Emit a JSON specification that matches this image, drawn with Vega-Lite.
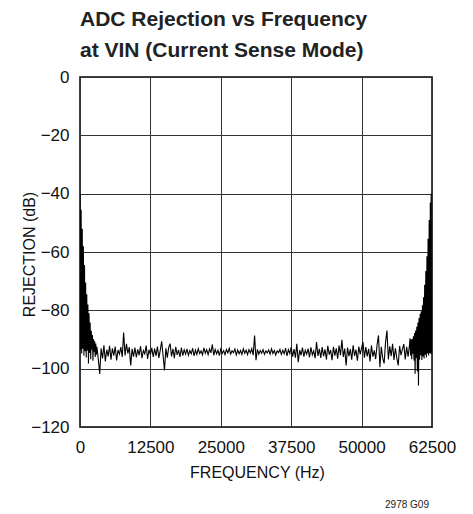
{
  "$schema": "https://vega.github.io/schema/vega-lite/v6.json",
  "width": 352,
  "height": 350,
  "autosize": {"type": "none"},
  "padding": {"left": 80, "top": 77, "right": 41, "bottom": 87},
  "background": "white",
  "config": {
    "font": "Liberation Sans",
    "view": {"stroke": "#000", "strokeWidth": 1.5}
  },
  "title": {
    "text": ["ADC Rejection vs Frequency", "at VIN (Current Sense Mode)"],
    "anchor": "start",
    "frame": "group",
    "font": "Liberation Sans",
    "fontSize": 21,
    "fontWeight": "bold",
    "color": "#222",
    "lineHeight": 31,
    "offset": 20,
    "dy": 30,
    "baseline": "alphabetic"
  },
  "layer": [
    {
      "data": {"values": [
        {"f":0,"r":-40.0},{"f":100,"r":-93.5},{"f":200,"r":-45.5},{"f":300,"r":-94.8},{"f":400,"r":-52.0},{"f":500,"r":-93.2},{"f":600,"r":-58.0},{"f":700,"r":-95.6},{"f":800,"r":-64.5},{"f":900,"r":-94.0},
        {"f":1000,"r":-70.5},{"f":1100,"r":-96.2},{"f":1200,"r":-74.5},{"f":1300,"r":-93.8},{"f":1400,"r":-78.0},{"f":1500,"r":-98.2},{"f":1600,"r":-81.0},{"f":1700,"r":-94.6},{"f":1800,"r":-84.2},{"f":1900,"r":-96.8},
        {"f":2000,"r":-87.0},{"f":2100,"r":-93.5},{"f":2200,"r":-88.5},{"f":2300,"r":-97.3},{"f":2400,"r":-89.8},{"f":2500,"r":-94.2},{"f":2600,"r":-90.6},{"f":2700,"r":-96.0},{"f":2800,"r":-91.4},{"f":2900,"r":-95.2},
        {"f":3000,"r":-92.5},{"f":3250,"r":-96.8},{"f":3500,"r":-101.8},{"f":3750,"r":-93.0},{"f":4000,"r":-96.5},{"f":4250,"r":-92.0},{"f":4500,"r":-97.5},{"f":4750,"r":-93.5},{"f":5000,"r":-95.8},{"f":5250,"r":-92.2},
        {"f":5500,"r":-96.9},{"f":5750,"r":-93.0},{"f":6000,"r":-95.5},{"f":6250,"r":-92.4},{"f":6500,"r":-97.2},{"f":6750,"r":-93.6},{"f":7000,"r":-95.0},{"f":7250,"r":-92.6},{"f":7500,"r":-96.0},{"f":7750,"r":-87.6},
        {"f":8000,"r":-95.5},{"f":8250,"r":-91.5},{"f":8500,"r":-94.8},{"f":8750,"r":-92.6},{"f":9000,"r":-98.9},{"f":9250,"r":-93.2},{"f":9500,"r":-95.9},{"f":9750,"r":-92.8},{"f":10000,"r":-96.1},{"f":10250,"r":-93.4},
        {"f":10500,"r":-95.4},{"f":10750,"r":-92.3},{"f":11000,"r":-96.4},{"f":11250,"r":-93.8},{"f":11500,"r":-94.9},{"f":11750,"r":-92.1},{"f":12000,"r":-96.7},{"f":12250,"r":-93.5},{"f":12500,"r":-95.2},{"f":12750,"r":-92.9},
        {"f":13000,"r":-96.0},{"f":13250,"r":-93.1},{"f":13500,"r":-95.6},{"f":13750,"r":-92.4},{"f":14000,"r":-96.3},{"f":14250,"r":-93.7},{"f":14500,"r":-90.6},{"f":14750,"r":-95.4},{"f":15000,"r":-100.6},{"f":15250,"r":-93.0},
        {"f":15500,"r":-96.2},{"f":15750,"r":-92.7},{"f":16000,"r":-91.4},{"f":16250,"r":-95.8},{"f":16500,"r":-93.2},{"f":16750,"r":-96.4},{"f":17000,"r":-92.5},{"f":17250,"r":-95.3},{"f":17500,"r":-93.6},{"f":17750,"r":-96.0},
        {"f":18000,"r":-92.8},{"f":18250,"r":-95.5},{"f":18500,"r":-93.5},{"f":18750,"r":-95.0},{"f":19000,"r":-93.2},{"f":19250,"r":-95.4},{"f":19500,"r":-93.8},{"f":19750,"r":-94.9},{"f":20000,"r":-93.0},{"f":20250,"r":-95.6},
        {"f":20500,"r":-93.6},{"f":20750,"r":-95.1},{"f":21000,"r":-93.1},{"f":21250,"r":-94.8},{"f":21500,"r":-93.9},{"f":21750,"r":-95.3},{"f":22000,"r":-92.9},{"f":22250,"r":-94.7},{"f":22500,"r":-93.5},{"f":22750,"r":-95.2},
        {"f":23000,"r":-93.2},{"f":23250,"r":-94.6},{"f":23500,"r":-91.7},{"f":23750,"r":-95.4},{"f":24000,"r":-93.4},{"f":24250,"r":-94.9},{"f":24500,"r":-93.7},{"f":24750,"r":-95.5},{"f":25000,"r":-93.3},{"f":25250,"r":-94.8},
        {"f":25500,"r":-93.8},{"f":25750,"r":-95.2},{"f":26000,"r":-93.4},{"f":26250,"r":-94.6},{"f":26500,"r":-93.0},{"f":26750,"r":-95.0},{"f":27000,"r":-93.9},{"f":27250,"r":-94.5},{"f":27500,"r":-93.3},{"f":27750,"r":-95.3},
        {"f":28000,"r":-93.6},{"f":28250,"r":-94.9},{"f":28500,"r":-93.8},{"f":28750,"r":-95.1},{"f":29000,"r":-93.2},{"f":29250,"r":-94.7},{"f":29500,"r":-93.7},{"f":29750,"r":-95.2},{"f":30000,"r":-93.5},{"f":30250,"r":-94.6},
        {"f":30500,"r":-93.1},{"f":30750,"r":-95.4},{"f":31000,"r":-88.6},{"f":31250,"r":-97.1},{"f":31500,"r":-93.4},{"f":31750,"r":-95.0},{"f":32000,"r":-93.8},{"f":32250,"r":-94.7},{"f":32500,"r":-93.5},{"f":32750,"r":-95.1},
        {"f":33000,"r":-93.9},{"f":33250,"r":-94.6},{"f":33500,"r":-93.6},{"f":33750,"r":-95.0},{"f":34000,"r":-93.2},{"f":34250,"r":-94.8},{"f":34500,"r":-93.8},{"f":34750,"r":-95.3},{"f":35000,"r":-93.9},{"f":35250,"r":-94.5},
        {"f":35500,"r":-93.4},{"f":35750,"r":-95.1},{"f":36000,"r":-93.7},{"f":36250,"r":-94.9},{"f":36500,"r":-93.0},{"f":36750,"r":-95.6},{"f":37000,"r":-93.5},{"f":37250,"r":-94.8},{"f":37500,"r":-92.6},{"f":37750,"r":-95.9},
        {"f":38000,"r":-93.3},{"f":38250,"r":-96.2},{"f":38500,"r":-91.5},{"f":38750,"r":-97.8},{"f":39000,"r":-93.6},{"f":39250,"r":-95.4},{"f":39500,"r":-92.8},{"f":39750,"r":-95.9},{"f":40000,"r":-93.7},{"f":40250,"r":-95.0},
        {"f":40500,"r":-93.1},{"f":40750,"r":-96.1},{"f":41000,"r":-92.7},{"f":41250,"r":-95.3},{"f":41500,"r":-93.9},{"f":41750,"r":-96.4},{"f":42000,"r":-90.9},{"f":42250,"r":-95.6},{"f":42500,"r":-93.2},{"f":42750,"r":-96.3},
        {"f":43000,"r":-92.6},{"f":43250,"r":-95.7},{"f":43500,"r":-93.4},{"f":43750,"r":-96.8},{"f":44000,"r":-92.2},{"f":44250,"r":-95.2},{"f":44500,"r":-93.6},{"f":44750,"r":-97.1},{"f":45000,"r":-92.5},{"f":45250,"r":-95.5},
        {"f":45500,"r":-93.0},{"f":45750,"r":-96.6},{"f":46000,"r":-92.1},{"f":46250,"r":-95.4},{"f":46500,"r":-90.1},{"f":46750,"r":-96.0},{"f":47000,"r":-93.1},{"f":47250,"r":-98.9},{"f":47500,"r":-92.8},{"f":47750,"r":-95.7},
        {"f":48000,"r":-93.3},{"f":48250,"r":-96.9},{"f":48500,"r":-92.0},{"f":48750,"r":-95.6},{"f":49000,"r":-93.5},{"f":49250,"r":-97.3},{"f":49500,"r":-92.4},{"f":49750,"r":-95.1},{"f":50000,"r":-92.9},{"f":50250,"r":-90.9},
        {"f":50500,"r":-96.2},{"f":50750,"r":-92.6},{"f":51000,"r":-95.8},{"f":51250,"r":-93.2},{"f":51500,"r":-97.5},{"f":51750,"r":-92.0},{"f":52000,"r":-95.9},{"f":52250,"r":-93.7},{"f":52500,"r":-96.7},{"f":52750,"r":-91.8},
        {"f":53000,"r":-88.6},{"f":53250,"r":-99.5},{"f":53500,"r":-92.5},{"f":53750,"r":-96.4},{"f":54000,"r":-98.2},{"f":54250,"r":-91.0},{"f":54500,"r":-86.9},{"f":54750,"r":-96.8},{"f":55000,"r":-92.3},{"f":55250,"r":-95.7},
        {"f":55500,"r":-91.5},{"f":55750,"r":-97.0},{"f":56000,"r":-93.0},{"f":56250,"r":-96.3},{"f":56500,"r":-98.9},{"f":56750,"r":-92.2},{"f":57000,"r":-95.4},{"f":57250,"r":-93.3},{"f":57500,"r":-91.6},{"f":57750,"r":-96.8},
        {"f":58000,"r":-92.5},{"f":58250,"r":-95.9},{"f":58500,"r":-92.0},
        {"f":58600,"r":-89.6},{"f":58700,"r":-95.5},{"f":58800,"r":-90.0},{"f":58900,"r":-96.8},{"f":59000,"r":-89.8},{"f":59100,"r":-94.9},{"f":59200,"r":-88.9},{"f":59300,"r":-97.2},{"f":59400,"r":-87.8},{"f":59500,"r":-101.7},
        {"f":59600,"r":-86.9},{"f":59700,"r":-96.3},{"f":59800,"r":-85.6},{"f":59900,"r":-101.0},{"f":60000,"r":-84.2},{"f":60100,"r":-105.8},{"f":60200,"r":-82.6},{"f":60300,"r":-96.9},{"f":60400,"r":-81.2},{"f":60500,"r":-95.4},
        {"f":60600,"r":-80.3},{"f":60700,"r":-97.0},{"f":60800,"r":-78.3},{"f":60900,"r":-95.8},{"f":61000,"r":-75.5},{"f":61100,"r":-96.5},{"f":61200,"r":-71.2},{"f":61300,"r":-95.2},{"f":61400,"r":-66.5},{"f":61500,"r":-96.2},
        {"f":61600,"r":-61.5},{"f":61700,"r":-94.8},{"f":61800,"r":-55.5},{"f":61900,"r":-95.5},{"f":62000,"r":-49.0},{"f":62100,"r":-94.6},{"f":62200,"r":-43.0},{"f":62300,"r":-95.0},{"f":62350,"r":-40.0},{"f":62420,"r":-94.5}
      ]},
      "mark": {"type": "line", "color": "#000", "strokeWidth": 1.1, "clip": true},
      "encoding": {
        "x": {
          "field": "f",
          "type": "quantitative",
          "scale": {"domain": [0, 62500], "nice": false, "zero": false},
          "axis": {
            "values": [0, 6250, 12500, 18750, 25000, 31250, 37500, 43750, 50000, 56250, 62500],
            "format": "d",
            "labelExpr": "datum.value % 12500 === 0 ? datum.label : ''",
            "labelOverlap": false,
            "labelFlush": false,
            "labelBound": false,
            "grid": true,
            "gridColor": "#333",
            "gridWidth": 1,
            "gridOpacity": 1,
            "ticks": false,
            "domain": false,
            "labelFontSize": 17,
            "labelColor": "#111",
            "labelPadding": 12,
            "title": "FREQUENCY (Hz)",
            "titleFontSize": 16,
            "titleFontWeight": "normal",
            "titleColor": "#111",
            "titleX": 177,
            "titleY": 50,
            "titleAlign": "center",
            "titleBaseline": "alphabetic"
          }
        },
        "y": {
          "field": "r",
          "type": "quantitative",
          "scale": {"domain": [-120, 0], "nice": false, "zero": false},
          "axis": {
            "values": [-120, -100, -80, -60, -40, -20, 0],
            "format": "d",
            "grid": true,
            "gridColor": "#333",
            "gridWidth": 1,
            "gridOpacity": 1,
            "ticks": false,
            "domain": false,
            "labelFontSize": 17,
            "labelColor": "#111",
            "labelPadding": 11,
            "labelOverlap": false,
            "title": "REJECTION (dB)",
            "titleFontSize": 16,
            "titleFontWeight": "normal",
            "titleColor": "#111",
            "titleAngle": -90,
            "titleX": -46,
            "titleY": 177,
            "titleAlign": "center",
            "titleBaseline": "alphabetic"
          }
        }
      }
    },
    {
      "data": {"values": [{"f": 62500, "r": -120, "label": "2978 G09"}]},
      "mark": {"type": "text", "align": "right", "baseline": "alphabetic", "dx": -3, "dy": 81, "fontSize": 10, "font": "Liberation Sans", "color": "#222"},
      "encoding": {
        "x": {"field": "f", "type": "quantitative"},
        "y": {"field": "r", "type": "quantitative"},
        "text": {"field": "label"}
      }
    }
  ]
}
